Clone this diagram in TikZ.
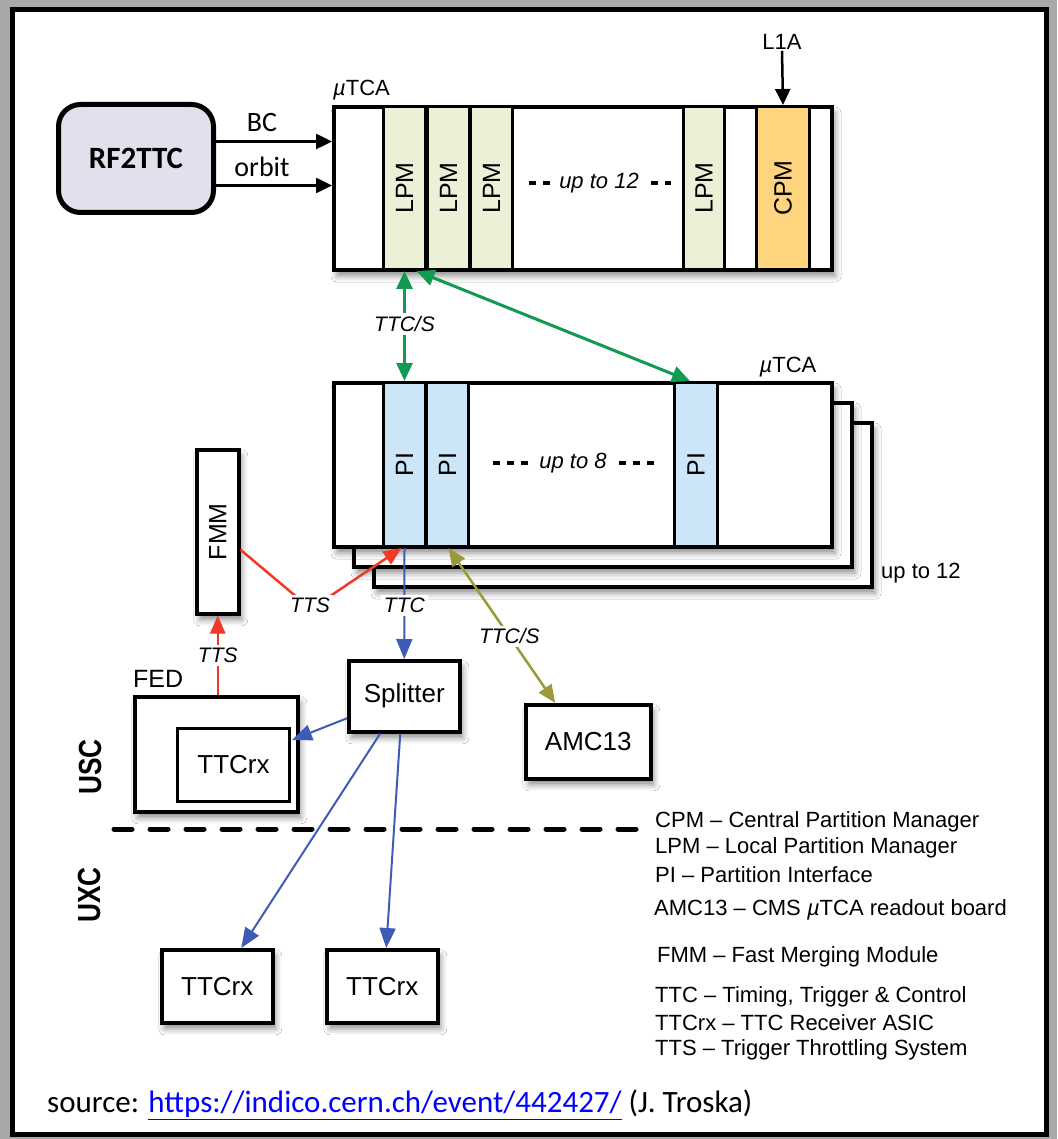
\documentclass[tikz,border=0pt]{standalone}
\usepackage{fontspec}
\usepackage{graphicx}
\setmainfont{Liberation Sans}
\newfontfamily\calib{Carlito}
\usetikzlibrary{arrows.meta,shadows.blur,calc}

\definecolor{bgray}{HTML}{A8A8A8}
\definecolor{lpmc}{HTML}{EBF1D7}
\definecolor{cpmc}{HTML}{FFD47F}
\definecolor{pic}{HTML}{CCE6F8}
\definecolor{rfc}{HTML}{E4DFEC}
\definecolor{grn}{HTML}{109A52}
\definecolor{redc}{HTML}{EE3A26}
\definecolor{bluc}{HTML}{3E5CB6}
\definecolor{oliv}{HTML}{9B9A3A}
\definecolor{linkc}{HTML}{0000FF}

\newcommand{\fs}[1]{\fontsize{#1}{#1}\selectfont}

\begin{document}
\begin{tikzpicture}[x=1pt,y=-1pt,
  shad/.style={blur shadow={shadow xshift=3pt,shadow yshift=-6pt,shadow blur radius=6pt,shadow opacity=45}},
  rbox/.style={draw,anchor=north west,inner sep=0pt,fill=white},
  crate/.style={rbox,line width=4pt,shad},
  slotbox/.style={rbox,line width=3pt,font=\fs{25}},
  plainbox/.style={rbox,line width=3.5pt,shad,font=\fs{26}},
  lbl/.style={font=\fs{22},inner sep=1pt},
  ilbl/.style={font=\fs{21}\itshape,fill=white,inner sep=3pt},
  karr/.style={line width=2.5pt,-{Triangle[length=16pt,width=15pt]}},
  garr/.style={draw=grn,line width=3pt,{Triangle[length=18pt,width=16pt]}-{Triangle[length=18pt,width=16pt]}},
  rarr/.style={draw=redc,line width=2.5pt,-{Triangle[length=18pt,width=15pt]}},
  barr/.style={draw=bluc,line width=2pt,-{Triangle[length=20pt,width=16pt]}},
  oarr/.style={draw=oliv,line width=2.5pt,{Triangle[length=18pt,width=15pt]}-{Triangle[length=18pt,width=15pt]}},
  dots/.style={line width=4pt,dash pattern=on 7pt off 7pt},
  legend/.style={anchor=west,font=\fs{22},inner sep=0pt}
]
% background and frame
\fill[bgray] (0,0) rectangle (1057,1139);
\useasboundingbox (0,0) rectangle (1057,1139);
\draw[line width=5pt,fill=white] (12.5,10) rectangle (1046,1134.5);

% RF2TTC
\node[draw,line width=5pt,fill=rfc,rounded corners=22pt,anchor=north west,inner sep=0pt,
      minimum width=155pt,minimum height=108pt,font=\calib\bfseries\fs{31}] (rf) at (56,102) {RF2TTC};

% top crate
\node[crate,minimum width=498pt,minimum height=163pt] (crT) at (332,105) {};
\node[slotbox,fill=lpmc,minimum width=42pt,minimum height=163pt] (lpm1) at (382,105) {\rotatebox{90}{LPM}};
\node[slotbox,fill=lpmc,minimum width=42pt,minimum height=163pt] (lpm2) at (426,105) {\rotatebox{90}{LPM}};
\node[slotbox,fill=lpmc,minimum width=42pt,minimum height=163pt] (lpm3) at (469,105) {\rotatebox{90}{LPM}};
\node[slotbox,fill=lpmc,minimum width=41pt,minimum height=163pt] (lpm4) at (682,105) {\rotatebox{90}{LPM}};
\node[slotbox,fill=cpmc,minimum width=53pt,minimum height=163pt] (cpm) at (755,105) {\rotatebox{90}{CPM}};
\node[lbl,anchor=west] (mtcaT) at (332,90) {{\itshape µ}TCA};
\node[font=\fs{22}\itshape,inner sep=0pt] (up12) at (599,183) {up to 12};
\draw[dots] ([xshift=-9pt]up12.west) -- ++(-28,0);
\draw[dots] ([xshift=12pt]up12.east) -- ++(20,0);

% L1A
\node[lbl] (l1a) at (782,42) {L1A};
\draw[karr] (l1a.south) -- (cpm.north);

% BC / orbit
\draw[karr] ($(rf.east)+(0,-17)$) coordinate (bc0) -- (bc0 -| crT.west);
\draw[karr] ($(rf.east)+(0,27)$) coordinate (or0) -- (or0 -| crT.west);
\node[font=\calib\fs{28},inner sep=0pt] (bcl) at (262,123) {BC};
\node[font=\calib\fs{28},inner sep=0pt] (orl) at (262,167) {orbit};

% middle crates
\node[crate,minimum width=498pt,minimum height=164pt] (m3) at (372,421) {};
\node[crate,minimum width=498pt,minimum height=164pt] (m2) at (352,401) {};
\node[crate,minimum width=498pt,minimum height=164pt] (m1) at (332,381) {};
\node[slotbox,fill=pic,minimum width=42pt,minimum height=164pt] (pi1) at (382,381) {\rotatebox{90}{PI}};
\node[slotbox,fill=pic,minimum width=42pt,minimum height=164pt] (pi2) at (425,381) {\rotatebox{90}{PI}};
\node[slotbox,fill=pic,minimum width=43pt,minimum height=164pt] (pi3) at (673,381) {\rotatebox{90}{PI}};
\node[lbl] (mtcaM) at (788,367) {{\itshape µ}TCA};
\node[lbl,anchor=west] (upst) at (880,573) {up to 12};
\node[font=\fs{22}\itshape,inner sep=0pt] (up8) at (573,463) {up to 8};
\draw[dots] ([xshift=-11pt]up8.west) -- ++(-38,0);
\draw[dots] ([xshift=12pt]up8.east) -- ++(42,0);

% green TTC/S
\draw[garr] (lpm1.south) -- (pi1.north) node[pos=0.48,ilbl] {TTC/S};
\draw[garr] ([xshift=12pt]lpm1.south) -- ([xshift=-6pt]pi3.north);

% FMM, FED, Splitter, AMC13, TTCrx
\node[plainbox,minimum width=42pt,minimum height=164pt,font=\fs{25}] (fmm) at (195,448) {\rotatebox{90}{FMM}};
\node[plainbox,minimum width=163pt,minimum height=115pt] (fed) at (133,695) {};
\node[font=\fs{25},inner sep=0pt,anchor=west] (fedl) at (133,679) {FED};
\node[rbox,line width=3pt,minimum width=112pt,minimum height=73pt,font=\fs{26}] (rx0) at (176,727) {TTCrx};
\node[plainbox,minimum width=111pt,minimum height=71pt] (spl) at (347,659) {Splitter};
\node[plainbox,minimum width=125pt,minimum height=74pt] (amc) at (524,703) {AMC13};
\node[plainbox,minimum width=111pt,minimum height=73pt] (rx1) at (160,948) {TTCrx};
\node[plainbox,minimum width=111pt,minimum height=73pt] (rx2) at (325,948) {TTCrx};

% red TTS
\coordinate (apex) at (311,609);
\draw[rarr] ($(fmm.east)+(0,18)$) -- (apex) -- ([xshift=-3pt]pi1.south);
\node[ilbl] (tts1) at (310,605) {TTS};
\draw[rarr] (fmm.south |- fed.north) -- (fmm.south) node[pos=0.5,ilbl] {TTS};

% blue TTC
\draw[barr] (pi1.south) -- (spl.north) node[pos=0.52,ilbl] {TTC};
\draw[barr] ($(spl.west)+(0,22)$) -- ($(rx0.north east)+(1,13)$);
\draw[barr] ($(spl.south)+(-24,0)$) -- ($(rx1.north)+(24,0)$);
\draw[barr] ($(spl.south)+(-4,0)$) -- ($(rx2.north)+(4,0)$);

% olive TTC/S
\draw[oarr] ([xshift=1pt]pi2.south) -- ([xshift=-33pt]amc.north) node[pos=0.57,ilbl] {TTC/S};

% USC / UXC
\node[font=\fs{32}\bfseries,inner sep=0pt] (usc) at (90,767) {\rotatebox{90}{\scalebox{0.82}[1]{USC}}};
\node[font=\fs{32}\bfseries,inner sep=0pt] (uxc) at (89,895) {\rotatebox{90}{\scalebox{0.82}[1]{UXC}}};

% separator
\coordinate (d0) at (114,829);
\coordinate (d1) at (636,829);
\draw[line width=5pt,line cap=round,dash pattern=on 18pt off 18pt] (d0) -- (d1);

% legend
\node[legend] (g1) at (655,822) {CPM – Central Partition Manager};
\node[legend] (g2) at (655,848) {LPM – Local Partition Manager};
\node[legend] (g3) at (655,875) {PI – Partition Interface};
\node[legend] (g4) at (654,910) {AMC13 – CMS {\itshape µ}TCA readout board};
\node[legend] (g5) at (657,957) {FMM – Fast Merging Module};
\node[legend] (g6) at (655,997) {TTC – Timing, Trigger \& Control};
\node[legend] (g7) at (655,1023) {TTCrx – TTC Receiver ASIC};
\node[legend] (g8) at (655,1050) {TTS – Trigger Throttling System};

% source
\node[anchor=west,inner sep=0pt,font=\calib\fs{31}] (src) at (47,1105)
  {source: \textcolor{linkc}{\underline{https://indico.cern.ch/event/442427/}} (J. Troska)};
\end{tikzpicture}
\end{document}
